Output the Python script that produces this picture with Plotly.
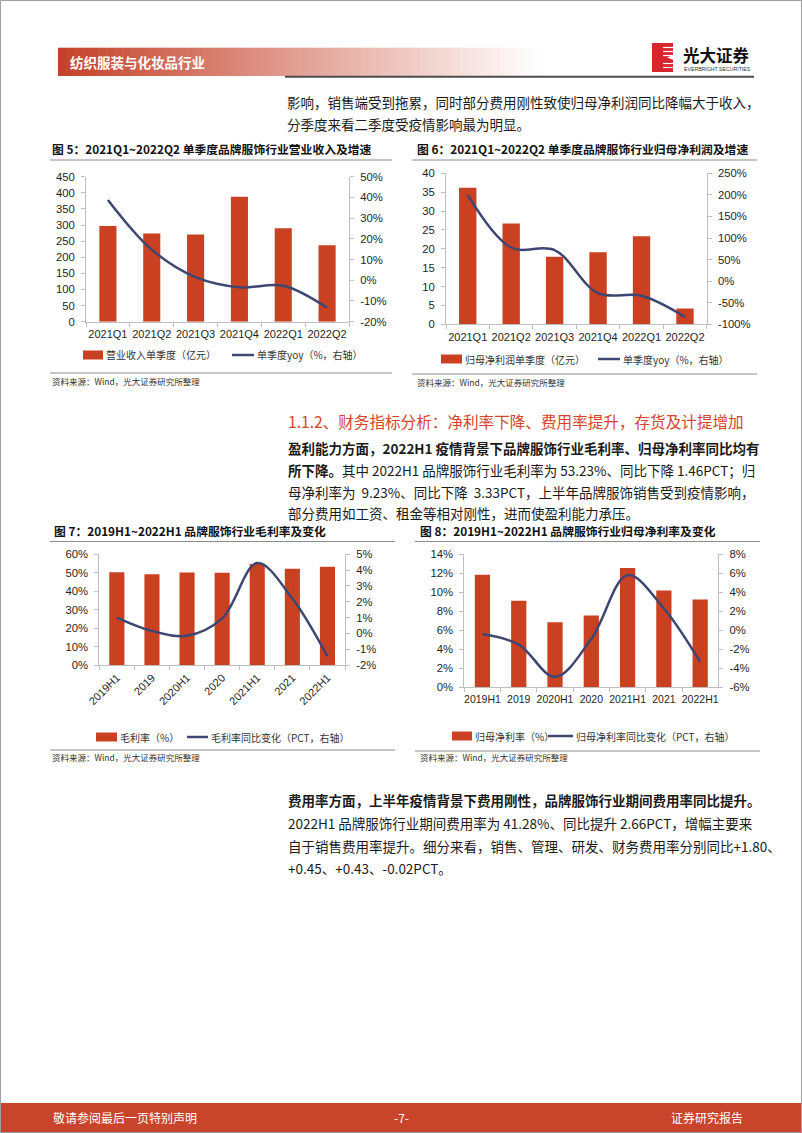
import plotly.graph_objects as go

W, H = 802, 1133

# ---------------- data ----------------
cats_q = ["2021Q1", "2021Q2", "2021Q3", "2021Q4", "2022Q1", "2022Q2"]
revenue_q = [297, 274, 271, 388, 290, 237]            # 亿元
revenue_yoy = [38.8, 14.8, 1.5, -3.4, -2.6, -13.2]    # %
profit_q = [36.2, 26.7, 17.9, 19.1, 23.3, 4.2]        # 亿元
profit_yoy = [200, 78, 72, -28, -34, -83]             # %

cats_h = ["2019H1", "2019", "2020H1", "2020", "2021H1", "2021", "2022H1"]
gross_margin = [50.3, 49.2, 50.2, 50.0, 54.69, 52.2, 53.23]   # %
gross_margin_chg = [1.0, 0.15, -0.15, 0.95, 4.45, 2.2, -1.46]  # PCT
net_margin = [11.85, 9.1, 6.85, 7.55, 12.56, 10.2, 9.23]       # %
net_margin_chg = [-0.4, -1.5, -4.9, -0.9, 5.8, 2.3, -3.33]     # PCT

# axis tick values
ticks_rev = list(range(0, 451, 50))
ticks_rev_yoy = list(range(-20, 51, 10))
ticks_prof = list(range(0, 41, 5))
ticks_prof_yoy = list(range(-100, 251, 50))
ticks_gm = list(range(0, 61, 10))
ticks_gm_chg = list(range(-2, 6, 1))
ticks_nm = list(range(0, 15, 2))
ticks_nm_chg = list(range(-6, 9, 2))

RED = "#C94120"
NAVY = "#3E4674"
AXC = "#BFBFBF"
TXT = "#1a1a1a"
CJK = "Noto Sans CJK SC"
LAT = "Liberation Sans, Arial"
TICK_SIZE = 11.3


def X(px):
    return px / W


def Y(py):
    return 1 - py / H


fig = go.Figure()

# ---------------- traces ----------------
fig.add_trace(go.Bar(x=cats_q, y=revenue_q, xaxis="x", yaxis="y", width=0.39,
                     marker=dict(color=RED, line=dict(width=0))))
fig.add_trace(go.Scatter(x=cats_q, y=revenue_yoy, xaxis="x", yaxis="y2", mode="lines",
                         line=dict(shape="spline", smoothing=1, color=NAVY, width=2.5)))
fig.add_trace(go.Bar(x=cats_q, y=profit_q, xaxis="x2", yaxis="y3", width=0.4,
                     marker=dict(color=RED, line=dict(width=0))))
fig.add_trace(go.Scatter(x=cats_q, y=profit_yoy, xaxis="x2", yaxis="y4", mode="lines",
                         line=dict(shape="spline", smoothing=1, color=NAVY, width=2.5)))
fig.add_trace(go.Bar(x=cats_h, y=gross_margin, xaxis="x3", yaxis="y5", width=0.43,
                     marker=dict(color=RED, line=dict(width=0))))
fig.add_trace(go.Scatter(x=cats_h, y=gross_margin_chg, xaxis="x3", yaxis="y6", mode="lines",
                         line=dict(shape="spline", smoothing=1, color=NAVY, width=2.5)))
fig.add_trace(go.Bar(x=cats_h, y=net_margin, xaxis="x4", yaxis="y7", width=0.42,
                     marker=dict(color=RED, line=dict(width=0))))
fig.add_trace(go.Scatter(x=cats_h, y=net_margin_chg, xaxis="x4", yaxis="y8", mode="lines",
                         line=dict(shape="spline", smoothing=1, color=NAVY, width=2.5)))


def xax(domain, anchor, n, angle=0, size=TICK_SIZE, standoff=2):
    return dict(domain=[X(domain[0]), X(domain[1])], anchor=anchor, type="category",
                range=[-0.5, n - 0.5], showline=True, linecolor=AXC, linewidth=1,
                ticks="outside", tickson="boundaries", ticklen=4, tickcolor=AXC,
                showgrid=False, zeroline=False, tickangle=angle, automargin=False,
                ticklabelstandoff=standoff,
                tickfont=dict(family=LAT, size=size, color="#1f1f1f"), fixedrange=True)


def labels(vals, suffix):
    return [("%d" % v) + suffix for v in vals]


def yax(domain, anchor, vals, suffix=""):
    return dict(domain=[Y(domain[1]), Y(domain[0])], anchor=anchor, range=[vals[0], vals[-1]],
                tickmode="array", tickvals=vals, ticktext=labels(vals, suffix),
                showline=True, linecolor=AXC, linewidth=1, ticks="outside",
                ticklen=4, tickcolor=AXC, showgrid=False, zeroline=False,
                ticklabelstandoff=4, automargin=False,
                tickfont=dict(family=LAT, size=TICK_SIZE, color="#1f1f1f"), fixedrange=True)


def yax_r(over, anchor, vals, suffix="%"):
    return dict(overlaying=over, side="right", anchor=anchor, range=[vals[0], vals[-1]],
                tickmode="array", tickvals=vals, ticktext=labels(vals, suffix),
                showline=True, linecolor=AXC, linewidth=1, ticks="outside",
                ticklen=4, tickcolor=AXC, showgrid=False, zeroline=False,
                ticklabelstandoff=4, automargin=False,
                tickfont=dict(family=LAT, size=TICK_SIZE, color="#1f1f1f"), fixedrange=True)


fig.update_layout(
    xaxis=xax((86, 349), "y", 6, size=11),
    yaxis=yax((176.7, 321.7), "x", ticks_rev),
    yaxis2=yax_r("y", "x", ticks_rev_yoy),
    xaxis2=xax((446, 706.7), "y3", 6, size=11),
    yaxis3=yax((173.3, 324.3), "x2", ticks_prof),
    yaxis4=yax_r("y3", "x2", ticks_prof_yoy),
    xaxis3=xax((99.3, 345), "y5", 7, angle=-45, size=11, standoff=1),
    yaxis5=yax((554.3, 665), "x3", ticks_gm, "%"),
    yaxis6=yax_r("y5", "x3", ticks_gm_chg),
    xaxis4=xax((464.3, 718.3), "y7", 7, size=10.5),
    yaxis7=yax((554.3, 687.3), "x4", ticks_nm, "%"),
    yaxis8=yax_r("y7", "x4", ticks_nm_chg),
)

shapes = []
annos = []


def rect(x0, y0, x1, y1, fill, line_w=0, line_c=None, layer="below"):
    d = dict(type="rect", xref="paper", yref="paper", x0=X(x0), x1=X(x1), y0=Y(y1), y1=Y(y0),
             fillcolor=fill, layer=layer, line=dict(width=line_w, color=line_c or fill))
    shapes.append(d)


def hline(x0, x1, y, color, w=1, layer="above"):
    shapes.append(dict(type="line", xref="paper", yref="paper", x0=X(x0), x1=X(x1), y0=Y(y), y1=Y(y),
                       line=dict(color=color, width=w), layer=layer))


def txt(x, y, s, size=13.5, color=TXT, anchor="left", family=CJK):
    annos.append(dict(x=X(x), y=Y(y), xref="paper", yref="paper", text=s, showarrow=False,
                      xanchor=anchor, yanchor="middle", align=anchor if anchor != "center" else "center",
                      font=dict(family=family, size=size, color=color)))


# ---------------- header ----------------
x_start, x_end = 58, 540
steps = 60
sw = (x_end - x_start) / steps
c0 = (196, 64, 40)
for i in range(steps):
    t = (i + 0.5) / steps
    c = tuple(int(round(c0[k] + (255 - c0[k]) * t)) for k in range(3))
    rect(x_start + i * sw, 47.7, x_start + (i + 1) * sw + 0.6, 76, "rgb(%d,%d,%d)" % c)
txt(68, 62, "<b>纺织服装与化妆品行业</b>", size=13.5, color="white")
hline(285, 754, 76.8, "#4D4D4D", w=2)

# logo
rect(652, 43, 673, 72, "#D7262C")
for yy in (47.5, 51.5, 55.5, 63.5, 67.5):
    hline(663, 673.5, yy, "white", w=1.2, layer="below")
shapes.append(dict(type="path", xref="paper", yref="paper",
                   path="M %f %f L %f %f L %f %f Z" % (X(673.5), Y(55), X(667), Y(57.5), X(673.5), Y(60)),
                   fillcolor="white", line=dict(width=0), layer="below"))
txt(681, 55, "<b>光大证券</b>", size=16.5, color="#111")
txt(681.5, 68.5, "EVERBRIGHT SECURITIES", size=5.2, color="#333", family=LAT)

# intro text
txt(285, 102, "影响，销售端受到拖累，同时部分费用刚性致使归母净利润同比降幅大于收入，")
txt(285, 124, "分季度来看二季度受疫情影响最为明显。")

# ---------------- chart titles & lines ----------------
txt(50, 148, "<b>图 5：2021Q1~2022Q2 单季度品牌服饰行业营业收入及增速</b>", size=11.8, color="#111")
txt(415, 148, "<b>图 6：2021Q1~2022Q2 单季度品牌服饰行业归母净利润及增速</b>", size=11.8, color="#111")
hline(50, 392, 160, "#8C8C8C", w=1)
hline(412, 757, 160, "#8C8C8C", w=1)

txt(52, 530, "<b>图 7：2019H1~2022H1 品牌服饰行业毛利率及变化</b>", size=11.8, color="#111")
txt(418, 530, "<b>图 8：2019H1~2022H1 品牌服饰行业归母净利率及变化</b>", size=11.8, color="#111")
hline(50, 395, 541.5, "#8C8C8C", w=1)
hline(415, 760, 541.5, "#8C8C8C", w=1)


# ---------------- legends ----------------
def legend(y, rx0, rx1, rtxt_x, rtxt, lx0, lx1, ltxt_x, ltxt):
    rect(rx0, y - 4.5, rx1, y + 4.5, RED)
    txt(rtxt_x, y, rtxt, size=10, color="#333")
    hline(lx0, lx1, y, NAVY, w=2.5)
    txt(ltxt_x, y, ltxt, size=10, color="#333")


legend(355, 83, 103, 104, "营业收入单季度（亿元）", 232, 254, 255, "单季度yoy（%，右轴）")
legend(359, 441, 462, 463, "归母净利润单季度（亿元）", 598, 620, 621, "单季度yoy（%，右轴）")
legend(737, 96, 117, 118, "毛利率（%）", 187, 208, 209, "毛利率同比变化（PCT，右轴）")
legend(736, 452, 472, 473, "归母净利率（%）", 548, 573, 574, "归母净利率同比变化（PCT，右轴）")

# ---------------- sources ----------------
hline(50, 392, 373, "#8C8C8C", w=1)
hline(412, 757, 374, "#8C8C8C", w=1)
txt(50, 381, "资料来源：Wind，光大证券研究所整理", size=8.5, color="#333")
txt(415, 381.5, "资料来源：Wind，光大证券研究所整理", size=8.5, color="#333")
hline(50, 395, 750, "#8C8C8C", w=1)
hline(415, 760, 751, "#8C8C8C", w=1)
txt(50, 756.5, "资料来源：Wind，光大证券研究所整理", size=8.5, color="#333")
txt(418, 756.5, "资料来源：Wind，光大证券研究所整理", size=8.5, color="#333")

# ---------------- section heading & paragraphs ----------------
txt(286, 421, "1.1.2、财务指标分析：净利率下降、费用率提升，存货及计提增加", size=15.6, color="#D4452B")
txt(286, 448, "<b>盈利能力方面，2022H1 疫情背景下品牌服饰行业毛利率、归母净利率同比均有</b>")
txt(286, 470, "<b>所下降。</b>其中 2022H1 品牌服饰行业毛利率为 53.23%、同比下降 1.46PCT；归")
txt(286, 491.5, "母净利率为  9.23%、同比下降  3.33PCT，上半年品牌服饰销售受到疫情影响，")
txt(286, 513, "部分费用如工资、租金等相对刚性，进而使盈利能力承压。")

txt(286, 800, "<b>费用率方面，上半年疫情背景下费用刚性，品牌服饰行业期间费用率同比提升。</b>")
txt(286, 823, "2022H1 品牌服饰行业期间费用率为 41.28%、同比提升 2.66PCT，增幅主要来")
txt(286, 846, "自于销售费用率提升。细分来看，销售、管理、研发、财务费用率分别同比+1.80、")
txt(286, 868, "+0.45、+0.43、-0.02PCT。")

# ---------------- footer ----------------
rect(0, 1103, 802, 1133, "#C8442A")
txt(51, 1117.5, "敬请参阅最后一页特别声明", size=12, color="white")
txt(401, 1117.5, "-7-", size=12, color="white", anchor="center")
txt(745, 1117.5, "证券研究报告", size=12, color="white", anchor="right")

# page border
shapes.append(dict(type="rect", xref="paper", yref="paper", x0=X(0.5), x1=X(801.5), y0=Y(1132.5), y1=Y(0.5),
                   line=dict(color="#A0A0A0", width=1), fillcolor="rgba(0,0,0,0)", layer="above"))

fig.update_layout(
    width=W, height=H, autosize=False,
    margin=dict(l=0, r=0, t=0, b=0, pad=0),
    paper_bgcolor="white", plot_bgcolor="white",
    showlegend=False, barmode="overlay",
    shapes=shapes, annotations=annos,
    font=dict(family=CJK, color=TXT),
)

fig.write_html("out.html", config=dict(displayModeBar=False))
